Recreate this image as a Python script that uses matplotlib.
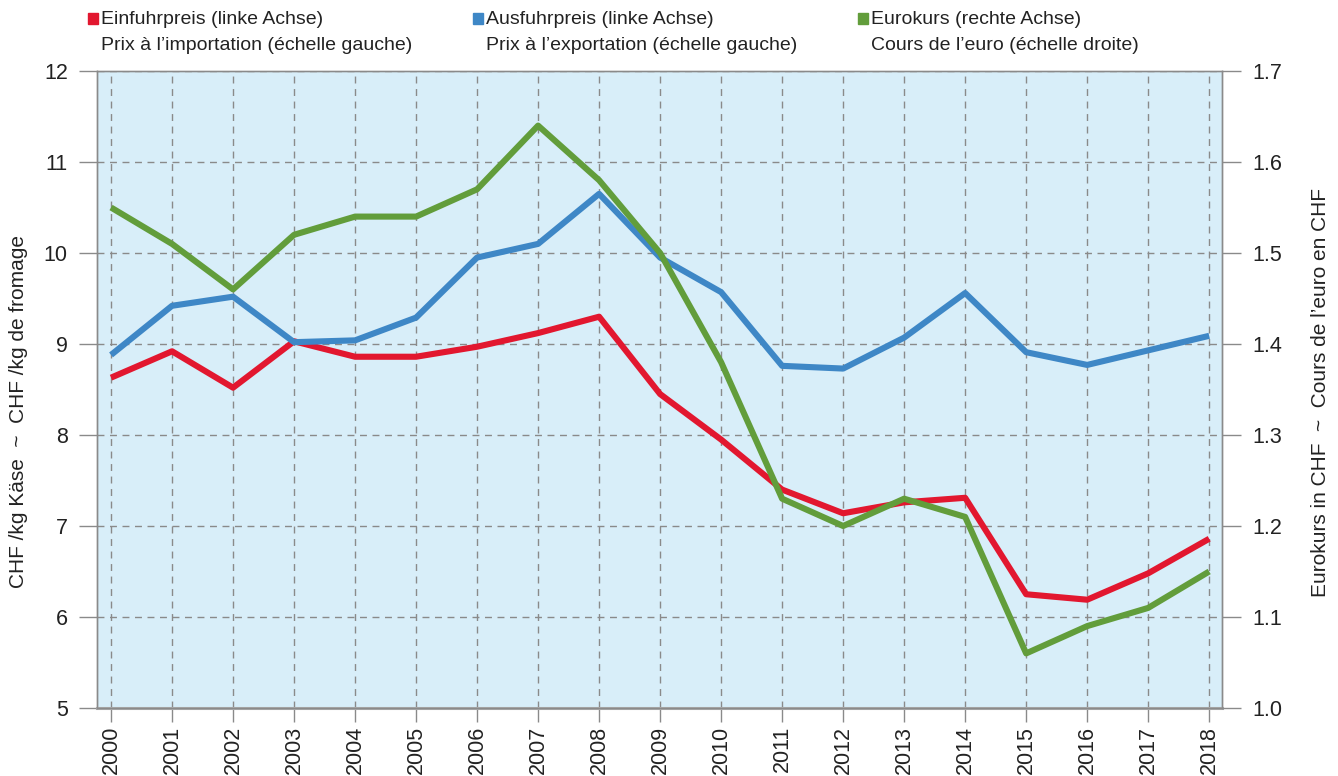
import matplotlib.pyplot as plt

plt.rcParams['font.family'] = ['Liberation Sans', 'DejaVu Sans']

# Jahreswerte 2000-2018
years = list(range(2000, 2019))
einfuhr = [8.63, 8.92, 8.52, 9.03, 8.86, 8.86, 8.97, 9.12, 9.30, 8.45,
           7.95, 7.40, 7.14, 7.26, 7.31, 6.25, 6.19, 6.48, 6.86]
ausfuhr = [8.88, 9.42, 9.52, 9.02, 9.04, 9.29, 9.95, 10.10, 10.65, 9.95,
           9.57, 8.76, 8.73, 9.07, 9.56, 8.91, 8.77, 8.93, 9.09]
eurokurs = [1.55, 1.51, 1.46, 1.52, 1.54, 1.54, 1.57, 1.64, 1.58, 1.50,
            1.38, 1.23, 1.20, 1.23, 1.21, 1.06, 1.09, 1.11, 1.15]

legend_de = ['Einfuhrpreis (linke Achse)', 'Ausfuhrpreis (linke Achse)', 'Eurokurs (rechte Achse)']
legend_fr = ['Prix à l\u2019importation (échelle gauche)', 'Prix à l\u2019exportation (échelle gauche)',
             'Cours de l\u2019euro (échelle droite)']

red = '#e2172f'
blue = '#3e87c6'
green = '#629d3b'
grey = '#8a8a8a'
bg = '#d8eef9'
txt = '#222222'

fig = plt.figure(figsize=(13.38, 7.76), dpi=100)
ax = fig.add_axes([97 / 1338, 1 - 708 / 776, (1222 - 97) / 1338, (708 - 71) / 776])
ax2 = ax.twinx()

ax.set_facecolor(bg)
ax.plot(years, einfuhr, color=red, lw=4.4, solid_capstyle='butt', zorder=3)
ax.plot(years, ausfuhr, color=blue, lw=4.4, solid_capstyle='butt', zorder=3)
ax2.plot(years, eurokurs, color=green, lw=4.4, solid_capstyle='butt', zorder=3)

ax.set_xlim(1999.77, 2018.21)
ax.set_ylim(5, 12)
ax2.set_ylim(1.0, 1.7)
ax.set_xticks(years)
ax.set_xticklabels([str(y) for y in years], rotation=90)
ax.set_yticks(range(5, 13))
ax2.set_yticks([1.0, 1.1, 1.2, 1.3, 1.4, 1.5, 1.6, 1.7])
ax2.set_yticklabels(['1.0', '1.1', '1.2', '1.3', '1.4', '1.5', '1.6', '1.7'])

ax.grid(True, color=grey, ls=(0, (5, 4)), lw=1.0)
ax.set_axisbelow(True)

for a in (ax, ax2):
    for s in a.spines.values():
        s.set_color(grey)
        s.set_linewidth(1.0)
    a.tick_params(colors=grey, labelcolor=txt, labelsize=15.5, width=1.0)
ax.spines['bottom'].set_linewidth(2.2)
ax.spines['bottom'].set_color('#aaaaaa')
ax.spines['top'].set_color('#aaaaaa')
ax.tick_params(axis='y', length=13, pad=8)
ax.tick_params(axis='x', length=10, pad=3)
ax2.tick_params(axis='y', length=14, pad=8)

ax.set_ylabel('CHF /kg Käse  ~  CHF /kg de fromage', fontsize=15, color=txt)
ax.yaxis.set_label_coords(-0.061, 0.466)
ax2.set_ylabel('Eurokurs in CHF  ~  Cours de l\u2019euro en CHF', fontsize=15, color=txt)
ax2.yaxis.set_label_coords(1.079, 0.496)

# Legende oben, zweisprachig
colors = [red, blue, green]
xs = [88, 473, 858]
for x, c, de, fr in zip(xs, colors, legend_de, legend_fr):
    fig.patches.append(plt.Rectangle((x / 1338, 1 - 24 / 776), 10 / 1338, 11 / 776,
                                     transform=fig.transFigure, color=c, figure=fig))
    fig.text((x + 13) / 1338, 1 - 19 / 776, de, fontsize=14, color=txt, va='center')
    fig.text((x + 13) / 1338, 1 - 45 / 776, fr, fontsize=14, color=txt, va='center')

fig.savefig('out.png', dpi=100)
